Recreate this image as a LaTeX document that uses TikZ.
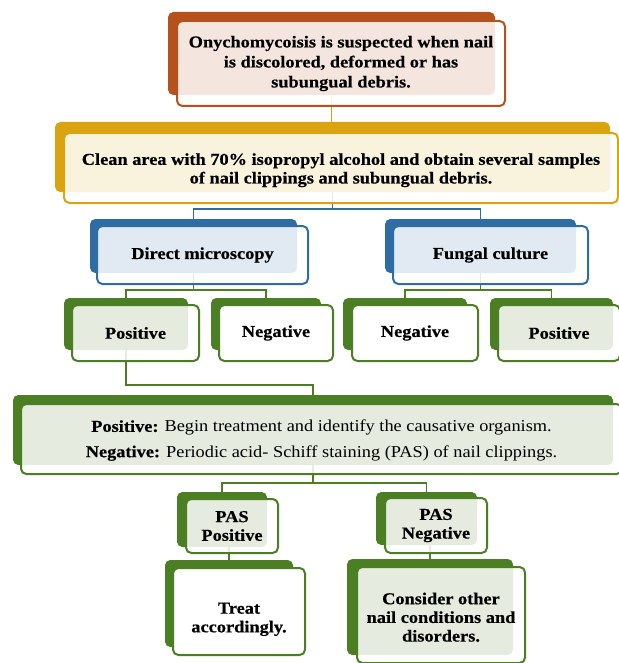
\documentclass[tikz,border=0pt]{standalone}
\usepackage{fontspec}
\setmainfont{Liberation Serif}[FakeStretch=1.1, BoldFeatures={FakeBold=0.5}]
\usetikzlibrary{backgrounds}
\definecolor{orng}{RGB}{181,82,27}
\definecolor{gold}{RGB}{218,163,16}
\definecolor{blu}{RGB}{46,108,164}
\definecolor{grn}{RGB}{76,126,35}
\tikzset{
  back/.style={fill=#1, rounded corners=4pt, inner sep=0pt},
  front/.style={draw=#1, line width=1.5pt, rounded corners=4pt, fill=white, fill opacity=0.86,
    text opacity=1, inner sep=0pt, align=center, font=\bfseries\fontsize{12.5}{14}\selectfont},
  opaque/.style={fill opacity=1},
  boxsize/.style 2 args={minimum width=#1*0.75pt, minimum height=#2*0.75pt},
  link/.style={draw=#1, line width=1.2pt},
}
\begin{document}
\begin{tikzpicture}[x=0.75pt, y=-0.75pt]
      \useasboundingbox (0,0) rectangle (618,663);
      % first step
      \node[back=orng, boxsize={327}{83}] (suspb) at (331.5,53.5) {};
      \node[front=orng, boxsize={328}{85}, font=\bfseries\fontsize{12.5}{15}\selectfont] (susp) at (341,63.5)
        {Onychomycoisis is suspected when nail\\is discolored, deformed or has\\subungual debris.};
      % sampling
      \node[back=gold, boxsize={555}{70}] (cleanb) at (332.5,157) {};
      \node[front=gold, boxsize={554}{70}] (clean) at (341,168)
        {\rule{0pt}{12pt}Clean area with 70\% isopropyl alcohol and obtain several samples\\of nail clippings and subungual debris.};
      % tests
      \node[back=blu, boxsize={207}{54}] (micb) at (193.5,246) {};
      \node[front=blu, boxsize={211}{58}] (mic) at (202.5,255) {Direct microscopy};
      \node[back=blu, boxsize={191}{54}] (culb) at (480.5,246) {};
      \node[front=blu, boxsize={195}{58}] (cul) at (490.5,255) {Fungal culture};
      % results
      \node[back=grn, boxsize={124}{52}] (posab) at (126,324) {};
      \node[front=grn, boxsize={127}{56}] (posa) at (135.5,333) {Positive};
      \node[back=grn, boxsize={110}{52}] (negab) at (266,324) {};
      \node[front=grn, opaque, boxsize={114}{56}] (nega) at (276,333) {Negative};
      \node[back=grn, boxsize={124}{52}] (negbb) at (405,324) {};
      \node[front=grn, opaque, boxsize={126}{56}] (negb) at (415,333) {Negative};
      \node[back=grn, boxsize={123}{52}] (posbb) at (551.5,324) {};
      \node[front=grn, boxsize={122}{56}] (posb) at (559,333) {Positive};
      % what to do
      \node[back=grn, boxsize={600}{70}] (resb) at (313,430) {};
      \node[front=grn, boxsize={601}{70}, font=\normalfont\fontsize{12.5}{19}\selectfont] (res) at (321.5,439)
        {\rule{0pt}{11pt}\textbf{Positive:} Begin treatment and identify the causative organism.\\
         \textbf{Negative:} Periodic acid- Schiff staining (PAS) of nail clippings.};
      % PAS
      \node[back=grn, boxsize={90}{55}] (paspb) at (222,519.5) {};
      \node[front=grn, boxsize={92}{54}] (pasp) at (232,526) {PAS\\Positive};
      \node[back=grn, boxsize={101}{53}] (pasnb) at (426.5,518.5) {};
      \node[front=grn, boxsize={102}{55}] (pasn) at (436,525.5) {PAS\\Negative};
      \node[back=grn, boxsize={128}{87}] (treatb) at (229,603.5) {};
      \node[front=grn, opaque, boxsize={132}{87}] (treat) at (239,611.5) {\rule{0pt}{20pt}Treat\\accordingly.};
      \node[back=grn, boxsize={166}{96}] (othb) at (430,607) {};
      \node[front=grn, boxsize={168}{96}] (oth) at (441,615) {\rule{0pt}{12pt}Consider other\\nail conditions and\\disorders.};
      % connectors
      \coordinate (bar1) at (0,209);
      \coordinate (bar2) at (0,290);
      \coordinate (bar3) at (0,385);
      \coordinate (bar4) at (0,483);
      \begin{scope}[on background layer]
        \draw[link=gold] (suspb.center) -- (suspb.center |- cleanb.center);
        \draw[link=blu] (cleanb.center) -- (cleanb.center |- bar1) -| (micb.center);
        \draw[link=blu] (cleanb.center |- bar1) -| (culb.center);
        \draw[link=grn] (micb.center) -- (micb.center |- bar2) -| (posab.center);
        \draw[link=grn] (micb.center |- bar2) -| (negab.center);
        \draw[link=grn] (culb.center) -- (culb.center |- bar2) -| (negbb.center);
        \draw[link=grn] (culb.center |- bar2) -| (posbb.center);
        \draw[link=grn] (posab.center) -- (posab.center |- bar3) -| (resb.center);
        \draw[link=grn] (resb.center) -- (resb.center |- bar4) -| (paspb.center);
        \draw[link=grn] (resb.center |- bar4) -| (pasnb.center);
        \draw[link=grn] (treatb.center) -- (treatb.center |- paspb.center);
        \draw[link=grn] (othb.center) -- (othb.center |- pasnb.center);
      \end{scope}
\end{tikzpicture}
\end{document}
